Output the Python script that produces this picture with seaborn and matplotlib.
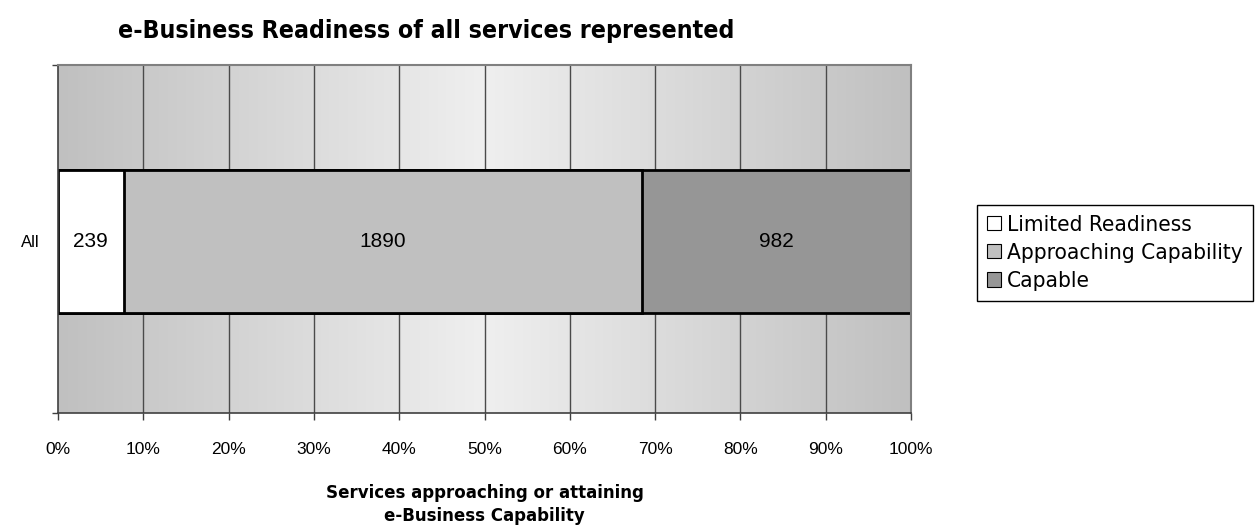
import numpy as np
import pandas as pd
import matplotlib
matplotlib.use("Agg")
import matplotlib.pyplot as plt
import seaborn as sns
from matplotlib.patches import Patch
from matplotlib.colors import LinearSegmentedColormap

sns.set_theme(style="white")
plt.rcParams['font.family'] = ['Liberation Sans', 'DejaVu Sans']
plt.rcParams['text.color'] = 'black'
plt.rcParams['axes.labelcolor'] = 'black'
plt.rcParams['xtick.color'] = 'black'
plt.rcParams['ytick.color'] = 'black'

# ---- data ----
category = "All"
series_names = ["Limited Readiness", "Approaching Capability", "Capable"]
series_counts = [239, 1890, 982]
series_colors = ["#ffffff", "#c0c0c0", "#969696"]
x_ticks = [0.0, 0.1, 0.2, 0.3, 0.4, 0.5, 0.6, 0.7, 0.8, 0.9, 1.0]
x_tick_labels = ["0%", "10%", "20%", "30%", "40%", "50%", "60%", "70%", "80%", "90%", "100%"]
title = "e-Business Readiness of all services represented"
xlabel = "Services approaching or attaining\ne-Business Capability"

total = sum(series_counts)
shares = [c / total for c in series_counts]
cum = np.cumsum(shares)

fig = plt.figure(figsize=(12.59, 5.26), dpi=100)
ax = fig.add_axes([58/1259, 1 - 413/526, (911-58)/1259, (413-65)/526])

# gradient background (edges gray, centre light)
xs = np.linspace(0, 1, 400)
g = 1 - np.abs(xs - 0.5) * 2
grad = g[np.newaxis, :]
cmap = LinearSegmentedColormap.from_list("bg", ["#c0c0c0", "#efefef"])
ax.imshow(grad, extent=[0, 1, 0, 1], transform=ax.transAxes, aspect="auto",
          cmap=cmap, zorder=0, interpolation="bilinear")

for xt in x_ticks[1:-1]:
    ax.axvline(xt, color="#4a4a4a", lw=1, zorder=1)

# stacked bars: draw cumulative extents from largest to smallest
for i in reversed(range(len(series_names))):
    df = pd.DataFrame({"cat": [category], "val": [cum[i]]})
    sns.barplot(data=df, x="val", y="cat", orient="h", ax=ax, width=0.41,
                color=series_colors[i], edgecolor="black", linewidth=2,
                saturation=1, zorder=3)

starts = np.concatenate([[0], cum[:-1]])
for s, w, c in zip(starts, shares, series_counts):
    ax.text(s + w / 2, 0, str(c), ha="center", va="center", fontsize=15,
            color="black", zorder=5)

ylo, yhi = 0.493, -0.507
ax.set_xlim(0, 1)
ax.set_ylim(ylo, yhi)
ax.set_xticks(x_ticks)
ax.set_xticklabels(x_tick_labels, fontsize=12.5)
ax.tick_params(axis="x", direction="out", length=5, width=1, color="#404040",
               pad=16, bottom=True, labelcolor="black")
ax.set_yticks([0])
ax.set_yticklabels([category], fontsize=12)
ax.tick_params(axis="y", which="major", length=0, pad=13, labelcolor="black")
ax.set_yticks([yhi, ylo], minor=True)
ax.tick_params(axis="y", which="minor", length=4, width=1, color="#404040", left=True)
ax.set_ylabel("")
ax.set_xlabel(xlabel, fontsize=13.3, fontweight="bold", family="DejaVu Sans",
              fontstretch="condensed", labelpad=19, linespacing=1.38, color="black")

for side in ["left", "bottom"]:
    ax.spines[side].set_color("#404040")
    ax.spines[side].set_linewidth(1.2)
for side in ["top", "right"]:
    ax.spines[side].set_color("#808080")
    ax.spines[side].set_linewidth(1.5)
for sp in ax.spines.values():
    sp.set_zorder(6)

fig.text(118/1259, 1 - 31/526, title, fontsize=17.8, fontweight="bold",
         family="DejaVu Sans", fontstretch="condensed",
         ha="left", va="center", color="black")

handles = [Patch(facecolor=c, edgecolor="black", linewidth=0.8) for c in series_colors]
leg = fig.legend(handles, series_names, loc="upper left",
                 bbox_to_anchor=(977/1259, 1 - 205/526), frameon=True,
                 fancybox=False, framealpha=1, edgecolor="black",
                 prop={"family": "DejaVu Sans", "size": 16.2, "stretch": "condensed"},
                 handlelength=0.6, handleheight=0.6, handletextpad=0.3,
                 borderpad=0.45, labelspacing=0.36, borderaxespad=0)
leg.get_frame().set_linewidth(1)
for t in leg.get_texts():
    t.set_color("black")

fig.savefig("out.png", dpi=100)
